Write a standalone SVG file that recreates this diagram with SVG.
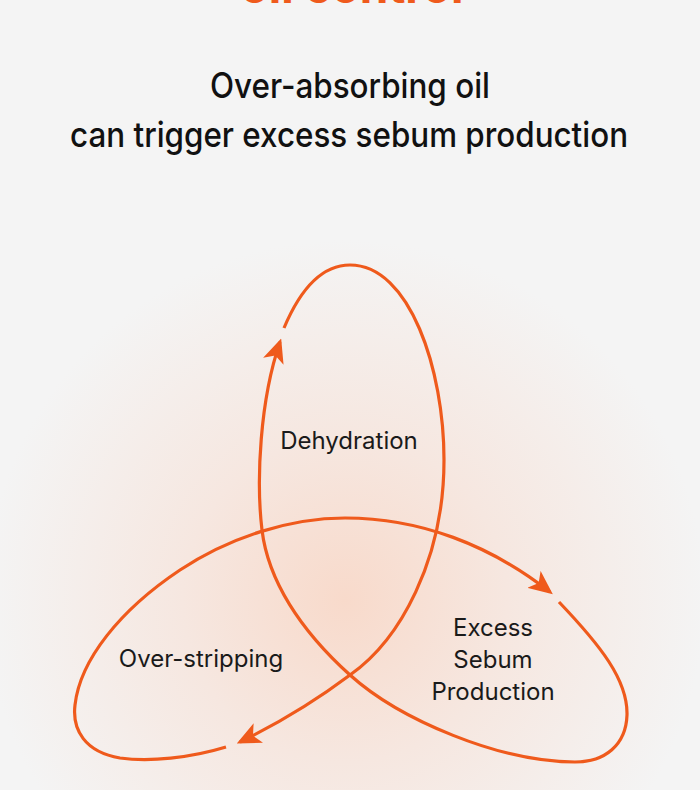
<svg xmlns="http://www.w3.org/2000/svg" width="700" height="790" viewBox="0 0 700 790">
  <defs>
    <radialGradient id="glow" cx="345" cy="600" r="360" gradientUnits="userSpaceOnUse">
      <stop offset="0" stop-color="#f8dacb"/>
      <stop offset="0.45" stop-color="#f6e7e0"/>
      <stop offset="1" stop-color="#f4f4f4"/>
    </radialGradient>
    <marker id="arrow" markerUnits="userSpaceOnUse" markerWidth="24" markerHeight="22" viewBox="0 0 20 18" refX="17" refY="9" orient="auto">
      <path d="M0,0 L20,9 L0,18 L5,9 Z" fill="#ef5a1c"/>
    </marker>
    <style>
      .title { font-family: Inter, "Liberation Sans", sans-serif; font-size: 35px; font-weight: 500; fill: #111; text-anchor: middle; }
      .label { font-family: Inter, "Liberation Sans", sans-serif; font-size: 24px; fill: #1a1a1a; text-anchor: middle; }
      .loop { fill: none; stroke: #ef5a1c; stroke-width: 3.2; stroke-linecap: butt; }
      .head { font-family: Inter, "Liberation Sans", sans-serif; font-size: 46px; font-weight: 700; fill: #ef5a1c; text-anchor: middle; }
    </style>
  </defs>
  <rect x="0" y="0" width="700" height="790" fill="#f4f4f4"/>
  <rect x="0" y="0" width="700" height="790" fill="url(#glow)"/>

  <text class="head" x="352" y="3">oil control</text>
  <text class="title" x="350" y="98" textLength="280" lengthAdjust="spacingAndGlyphs">Over-absorbing oil</text>
  <text class="title" x="349" y="147" textLength="558" lengthAdjust="spacingAndGlyphs">can trigger excess sebum production</text>

  <g id="connectors">
    <path class="loop" marker-end="url(#arrow)" d="M 284 328 C 300 290, 322 265, 350 265 C 410 265, 444 370, 444 460 C 444 560, 400 640, 350 675 C 310 705, 275 725, 240 742"/>
    <path class="loop" marker-end="url(#arrow)" d="M 226 747 C 190 758, 150 762, 120 758 C 85 752, 72 730, 75 705 C 80 660, 120 610, 180 570 C 230 537, 290 518, 345 518 C 420 518, 490 545, 550 592"/>
    <path class="loop" marker-end="url(#arrow)" d="M 559 602 C 600 645, 628 680, 627 715 C 626 745, 605 762, 575 762 C 500 762, 400 720, 350 675 C 300 630, 268 580, 262 530 C 256 480, 260 400, 280 342"/>
  </g>

  <g id="node-dehydration">
    <text class="label" x="349" y="449">Dehydration</text>
  </g>
  <g id="node-over-stripping">
    <text class="label" x="201" y="667">Over-stripping</text>
  </g>
  <g id="node-excess-sebum">
    <text class="label" x="493" y="636">Excess</text>
    <text class="label" x="493" y="668">Sebum</text>
    <text class="label" x="493" y="700">Production</text>
  </g>
</svg>
